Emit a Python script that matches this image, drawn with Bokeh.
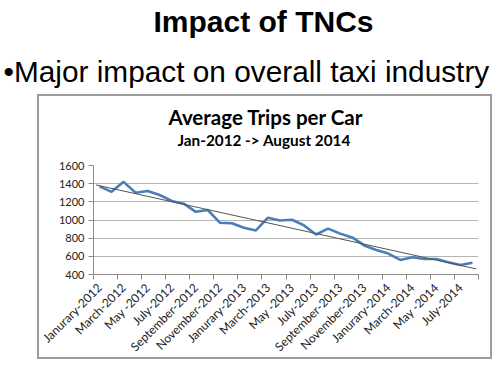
import math
import numpy as np
from bokeh.plotting import figure
from bokeh.models import Title, FixedTicker, Range1d
from bokeh.embed import file_html
from bokeh.resources import INLINE

# ---- data ----
trips = [1370, 1310, 1420, 1300, 1320, 1275, 1210, 1180,
         1090, 1110, 970, 965, 915, 885, 1025, 995,
         1003, 940, 840, 905, 850, 808, 720, 670,
         630, 560, 590, 570, 570, 535, 505, 530]
tick_labels = ["Janurary-2012", "March-2012", "May -2012", "July-2012",
               "September-2012", "November-2012", "Janurary-2013", "March-2013",
               "May -2013", "July-2013", "September-2013", "November-2013",
               "Janurary-2014", "March-2014", "May -2014", "July-2014"]
y_ticks = [400, 600, 800, 1000, 1200, 1400, 1600]
slide_title = "Impact of TNCs"
bullet_text = "\u2022Major impact on overall taxi industry"
chart_title = "Average Trips per Car"
chart_subtitle = "Jan-2012 -> August 2014"

W, H = 495, 362
FL, FR, FT, FB = 93, 478, 165, 277   # plot frame edges on the page
BOX = "#9c9c9c"

x = list(range(len(trips)))
slope, intercept = np.polyfit(x, trips, 1)
trend_x = [-0.3, len(trips) - 1 + 0.3]
trend_y = [slope * v + intercept for v in trend_x]

# chart box drawn as a CSS background behind the (transparent) canvas
g = f"linear-gradient({BOX},{BOX})"
box_bg = (f"{g} 37px 94px / 455px 2px no-repeat, "
          f"{g} 37px 357px / 455px 2px no-repeat, "
          f"{g} 37px 94px / 2px 265px no-repeat, "
          f"{g} 490px 94px / 2px 265px no-repeat, white")

p = figure(width=W, height=H, output_backend="svg", toolbar_location=None,
           x_range=Range1d(-0.5, len(trips) - 0.5), y_range=Range1d(400, 1600),
           min_border_left=FL, min_border_right=W - FR, min_border_top=FT,
           min_border_bottom=H - FB, styles={"background": box_bg})
p.title.visible = False
p.outline_line_color = None
p.background_fill_color = None
p.border_fill_color = None

p.xgrid.grid_line_color = None
p.ygrid.grid_line_color = "#b4b4b4"
p.ygrid.grid_line_width = 1

p.yaxis.ticker = FixedTicker(ticks=y_ticks)
p.yaxis.axis_line_color = "#8c8c8c"
p.yaxis.major_tick_line_color = "#8c8c8c"
p.yaxis.major_tick_out = 5
p.yaxis.major_tick_in = 0
p.yaxis.minor_tick_line_color = None
p.yaxis.major_label_text_font = "Lato"
p.yaxis.major_label_text_font_size = "11px"
p.yaxis.major_label_text_color = "#222222"
p.yaxis.major_label_standoff = 4

label_pos = list(range(0, len(trips), 2))
p.xaxis.ticker = FixedTicker(ticks=label_pos,
                             minor_ticks=[v - 0.5 for v in range(0, len(trips) + 1, 2)])
p.xaxis.major_label_overrides = {pos: lab for pos, lab in zip(label_pos, tick_labels)}
p.xaxis.major_label_orientation = math.pi / 4
p.xaxis.axis_line_color = "#8c8c8c"
p.xaxis.major_tick_out = 0
p.xaxis.major_tick_in = 0
p.xaxis.minor_tick_line_color = "#8c8c8c"
p.xaxis.minor_tick_out = 5
p.xaxis.minor_tick_in = 0
p.xaxis.major_label_text_font = "Lato"
p.xaxis.major_label_text_font_size = "12px"
p.xaxis.major_label_text_color = "#222222"
p.xaxis.major_label_standoff = 6

p.line(x, trips, line_color="#4a7ebb", line_width=2.6)
p.line(trend_x, trend_y, line_color="#55564a", line_width=1)

# titles stacked above the frame (first added = closest to the plot)
p.add_layout(Title(text=" ", text_font_size="1px", align="left",
                   vertical_align="bottom", standoff=14), "above")   # spacer
p.add_layout(Title(text=chart_subtitle, text_font="Lato", text_font_style="bold",
                   text_font_size="15.3px", align="left", offset=84,
                   vertical_align="bottom", standoff=0, text_color="black"), "above")
p.add_layout(Title(text=chart_title, text_font="Lato", text_font_style="bold",
                   text_font_size="20.5px", align="left", offset=75,
                   vertical_align="bottom", standoff=0, text_color="black"), "above")
p.add_layout(Title(text=bullet_text, text_font="Liberation Sans", text_font_style="normal",
                   text_font_size="29.8px", align="left", offset=-90,
                   vertical_align="bottom", standoff=30, text_color="black"), "above")
p.add_layout(Title(text=slide_title, text_font="Liberation Sans", text_font_style="bold",
                   text_font_size="30px", align="left", offset=60,
                   vertical_align="bottom", standoff=0, text_color="black"), "above")

open("out.html", "w").write(file_html(p, INLINE))
